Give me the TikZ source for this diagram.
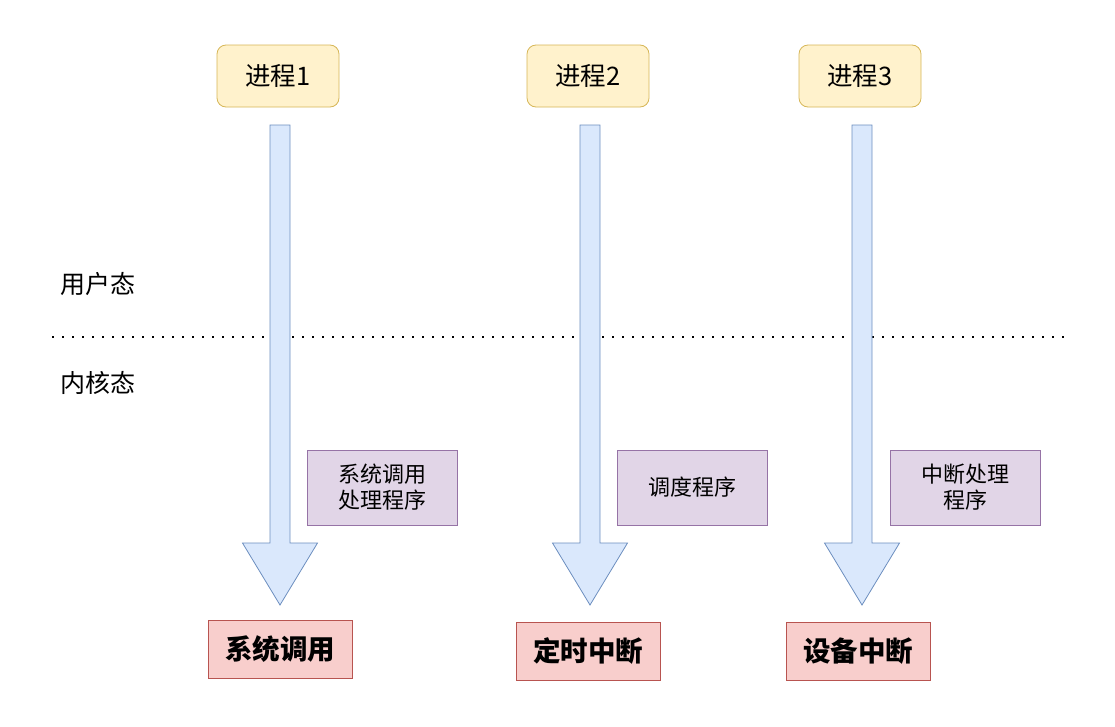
\documentclass[tikz,border=0pt]{standalone}
\usepackage{fontspec}
\setmainfont{Noto Sans CJK SC}
\usetikzlibrary{calc}
\definecolor{yfill}{HTML}{FFF2CC}\definecolor{ydraw}{HTML}{D6B656}
\definecolor{bfill}{HTML}{DAE8FC}\definecolor{bdraw}{HTML}{6C8EBF}
\definecolor{pfill}{HTML}{E1D5E7}\definecolor{pdraw}{HTML}{9673A6}
\definecolor{rfill}{HTML}{F8CECC}\definecolor{rdraw}{HTML}{B85450}
\tikzset{
  procbox/.style={draw=ydraw,fill=yfill,rounded corners=9pt,minimum width=122pt,minimum height=62pt,inner sep=0pt,font=\fontsize{25.5}{30}\selectfont,line width=0.8pt},
  handler/.style={draw=pdraw,fill=pfill,minimum width=150pt,minimum height=75pt,inner sep=0pt,align=center,font=\fontsize{22}{26}\selectfont,line width=0.8pt},
  event/.style={draw=rdraw,fill=rfill,minimum width=144pt,minimum height=58pt,inner sep=0pt,font=\fontsize{27.5}{32}\selectfont\bfseries,line width=0.8pt},
  modelabel/.style={inner sep=0pt,font=\fontsize{25}{29}\selectfont},
  blockarrow/.style={draw=bdraw,fill=bfill,line width=0.8pt,line join=miter}
}
\begin{document}
\begin{tikzpicture}[x=1pt,y=-1pt]
\useasboundingbox (0,0) rectangle (1115,726);
% dotted separator
\coordinate (sepL) at (52,337);
\coordinate (sepR) at (1066,337);
\draw[line width=1.6pt,dash pattern=on 1.6pt off 8.4pt] (sepL) -- (sepR);
\node[modelabel] (user) at (98,284) {用户态};
\node[modelabel] (kernel) at (98,383) {内核态};
% process boxes
\node[procbox] (p1) at (278,76) {进程1};
\node[procbox] (p2) at (588,76) {进程2};
\node[procbox] (p3) at (860,76) {进程3};
% block arrows
\foreach \cx/\nm in {280/a1,590/a2,862/a3}{
  \coordinate (\nm) at (\cx,125);
  \draw[blockarrow] ($(\nm)+(-10,0)$) -- ($(\nm)+(10,0)$) -- ($(\nm)+(10,418)$) -- ($(\nm)+(37.5,418)$)
     -- ($(\nm)+(0,480)$) -- ($(\nm)+(-37.5,418)$) -- ($(\nm)+(-10,418)$) -- cycle;
}
% handlers
\node[handler] (h1) at (382,487.5) {系统调用\\处理程序};
\node[handler] (h2) at (692,487.5) {调度程序};
\node[handler] (h3) at (965,487.5) {中断处理\\程序};
% events
\node[event] (e1) at (280,649) {系统调用};
\node[event] (e2) at (588,651) {定时中断};
\node[event] (e3) at (858,651) {设备中断};
\end{tikzpicture}
\end{document}
